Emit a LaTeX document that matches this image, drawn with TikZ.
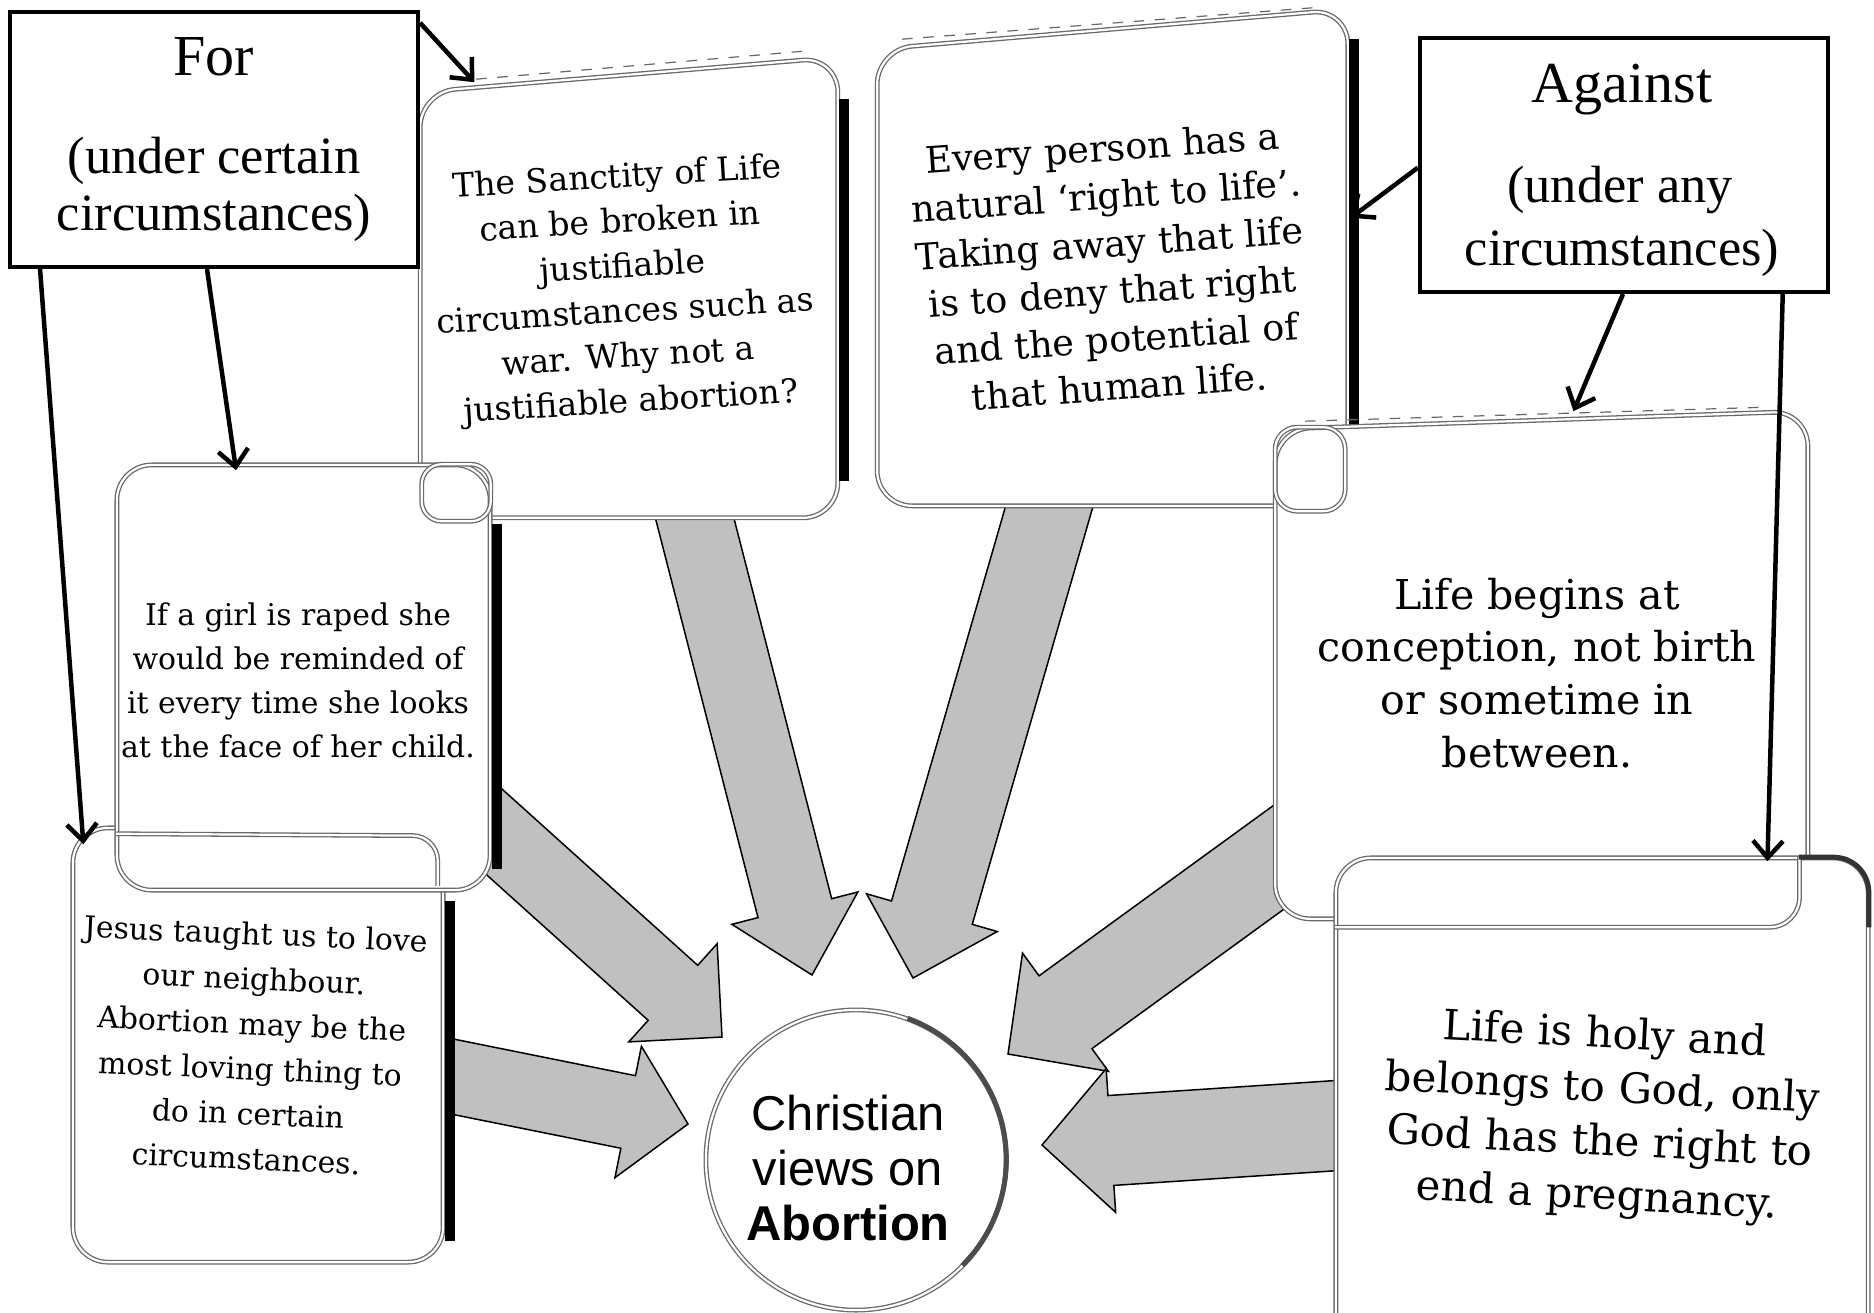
\documentclass[tikz,border=0pt]{standalone}
\usepackage{fontspec}
\setmainfont{Liberation Serif}
\newfontfamily\cardfont{DejaVu Serif}
\newfontfamily\circfont{Liberation Sans}
\usetikzlibrary{calc,arrows.meta}
\definecolor{fatgray}{RGB}{192,192,192}
\definecolor{edgegray}{RGB}{105,105,105}
\newcommand\fatarr[6]{%
  \coordinate (#1h) at ($(#3)!#6!(#2)$);
  \path[fatarrow] ($(#2)!#4!90:(#3)$) -- ($(#1h)!#4!90:(#3)$) -- ($(#1h)!#5!90:(#3)$) -- (#3)
     -- ($(#1h)!#5!-90:(#3)$) -- ($(#1h)!#4!-90:(#3)$) -- ($(#2)!#4!-90:(#3)$) -- cycle;
}
\begin{document}
\begin{tikzpicture}[x=0.01cm, y=-0.01cm,
  box/.style={draw=black, line width=0.04cm, fill=white, inner sep=0, rectangle},
  hdr/.style={anchor=base, inner sep=0, font=\fontsize{16.5}{18}\selectfont},
  sub/.style={anchor=base, inner sep=0, font=\fontsize{14.9}{17}\selectfont},
  thinarr/.style={line width=0.045cm, -{Straight Barb[length=0.17cm, width=0.3cm]}},
  cardshape/.style={fill=white, draw=edgegray, line width=0.013cm, double=white, double distance=0.022cm, rounded corners=0.35cm},
  cardnode/.style={cardshape, rectangle, inner sep=0},
  anchorbox/.style={rectangle, inner sep=0, draw=none},
  strip/.style={line width=0.1cm, black},
  curl/.style={draw=edgegray, line width=0.013cm, double=white, double distance=0.022cm},
  dashtop/.style={draw=black!60, line width=0.012cm, dashed},
  cardtxt/.style={align=center, inner sep=0},
  fatarrow/.style={fill=fatgray, draw=black, line width=0.015cm, line join=miter}
]
\useasboundingbox (0,0) rectangle (1874,1312);
\clip (0,0) rectangle (1874,1312);
\fill[white] (0,0) rectangle (1874,1312);

% ---------- card anchor nodes ----------
\node[anchorbox, minimum width=4.16cm, minimum height=4.59cm] (cS) at (629,287.5) {};
\node[anchorbox, minimum width=4.69cm, minimum height=4.95cm] (cE) at (1112.5,257.5) {};
\node[anchorbox, minimum width=5.31cm, minimum height=5.06cm] (cL) at (1541.5,665) {};
\node[circle, minimum size=3.0cm, inner sep=0, draw=none] (C) at (856,1160) {};

% ---------- fat arrows (behind the cards) ----------
\coordinate (a1s) at (690,500);   \coordinate (a1t) at (812,975);
\coordinate (a2s) at (1054,490);  \coordinate (a2t) at (913,978);
\coordinate (a3s) at (440,783);   \coordinate (a3t) at (722,1037);
\coordinate (a4s) at (400,1066);  \coordinate (a4t) at (688,1124);
\coordinate (a5s) at (1330,820);  \coordinate (a5t) at (1008,1054);
\coordinate (a6s) at (1360,1124); \coordinate (a6t) at (1042,1145);
\fatarr{a1}{a1s}{a1t}{0.38cm}{0.65cm}{0.69cm}
\fatarr{a2}{a2s}{a2t}{0.42cm}{0.68cm}{0.68cm}
\fatarr{a3}{a3s}{a3t}{0.37cm}{0.66cm}{0.66cm}
\fatarr{a4}{a4s}{a4t}{0.37cm}{0.67cm}{0.61cm}
\fatarr{a5}{a5s}{a5t}{0.45cm}{0.73cm}{0.71cm}
\fatarr{a6}{a6s}{a6t}{0.45cm}{0.72cm}{0.69cm}

% ---------- cards ----------
% Jesus card
\node[cardnode, minimum width=3.70cm, minimum height=4.34cm] (cJ) at (258,1045) {};
\draw[strip] ($(cJ.north east)!0.17!(cJ.south east)+(0.06cm,0)$) -- ($(cJ.north east)!0.95!(cJ.south east)+(0.06cm,0)$);
% Sanctity card
\path[cardshape] (cS.south west) -- ($(cS.north west)+(0,-0.35cm)$) -- (cS.north east) -- (cS.south east) -- cycle;
\draw[dashtop] ($(cS.north west)+(0.56cm,-0.22cm)$) -- ($(cS.north east)+(-0.34cm,0.06cm)$);
\draw[strip] ($(cS.north east)!0.09!(cS.south east)+(0.06cm,0)$) -- ($(cS.north east)!0.92!(cS.south east)+(0.06cm,0)$);
% Rape card
\node[cardnode, minimum width=3.73cm, minimum height=4.25cm] (cR) at (303.5,677.5) {};
\draw[strip] ($(cR.north east)!0.14!(cR.south east)+(0.06cm,0)$) -- ($(cR.north east)!0.95!(cR.south east)+(0.06cm,0)$);
\draw[curl, rounded corners=0.2cm] ($(cR.north east)+(-0.69cm,0)$) rectangle ($(cR.north east)+(0,-0.57cm)$);
\draw[curl, rounded corners=0.25cm] ($(cR.south west)+(0,0.57cm)$) -- ($(cR.south east)+(-0.53cm,0.55cm)$) -- ($(cR.south east)+(-0.53cm,0.05cm)$);
% Every person card
\path[cardshape] (cE.south west) -- ($(cE.north west)+(0,-0.40cm)$) -- (cE.north east) -- (cE.south east) -- cycle;
\draw[dashtop] ($(cE.north west)+(0.25cm,-0.30cm)$) -- ($(cE.north east)+(-0.27cm,0.02cm)$);
\draw[strip] ($(cE.north east)!0.06!(cE.south east)+(0.06cm,0)$) -- ($(cE.north east)!0.9!(cE.south east)+(0.06cm,0)$);
% Life begins card
\path[cardshape] (cL.south west) -- ($(cL.north west)+(0,-0.18cm)$) -- (cL.north east) -- (cL.south east) -- cycle;
\draw[dashtop] ($(cL.north west)+(0.3cm,-0.1cm)$) -- ($(cL.north east)+(-0.4cm,0.04cm)$);
\draw[curl, rounded corners=0.22cm] ($(cL.north west)+(0,-0.16cm)$) rectangle ($(cL.north west)+(0.70cm,-1.0cm)$);
% Life is holy card
\node[cardnode, minimum width=5.32cm, minimum height=5.22cm] (cH) at (1602,1119) {};
\draw[curl, rounded corners=0.3cm] ($(cH.north west)+(0,-0.70cm)$) -- ($(cH.north west)+(4.64cm,-0.70cm)$) -- ($(cH.north west)+(4.64cm,0)$);
\draw[line width=0.05cm, black!80, rounded corners=0.35cm] ($(cH.north east)+(-0.7cm,0)$) -- (cH.north east) -- ($(cH.north east)+(0,-0.7cm)$);

% ---------- centre ----------
\path[cardshape] (C.center) circle[radius=1.5cm];
\draw[line width=0.05cm, black!70] (C.70) arc[start angle=70, end angle=-45, radius=1.5cm];

% ---------- texts ----------
\node[cardtxt, rotate=3.5, font=\cardfont\fontsize{9.4}{12.8}\selectfont] (tS) at (624,291)
  {The Sanctity of Life\\can be broken in\\justifiable\\circumstances such as\\war. Why not a\\justifiable abortion?};
\node[cardtxt, rotate=4, font=\cardfont\fontsize{10.4}{13.6}\selectfont] (tE) at (1111,267)
  {Every person has a\\natural ‘right to life’.\\Taking away that life\\is to deny that right\\and the potential of\\that human life.};
\node[cardtxt, font=\cardfont\fontsize{8.5}{12.5}\selectfont] (tR) at (298,680)
  {If a girl is raped she\\would be reminded of\\it every time she looks\\at the face of her child.};
\node[cardtxt, rotate=-2.5, font=\cardfont\fontsize{8.5}{12.8}\selectfont] (tJ) at (251,1046)
  {Jesus taught us to love\\our neighbour.\\Abortion may be the\\most loving thing to\\do in certain\\circumstances.};
\node[cardtxt, font=\cardfont\fontsize{11.7}{15}\selectfont] (tL) at (1537,673)
  {Life begins at\\conception, not birth\\or sometime in\\between.};
\node[cardtxt, rotate=-3, font=\cardfont\fontsize{11.9}{15.3}\selectfont] (tH) at (1601,1117)
  {Life is holy and\\belongs to God, only\\God has the right to\\end a pregnancy.};
\node[cardtxt, font=\circfont\fontsize{13.9}{15.6}\selectfont] (tC) at (848,1168)
  {Christian\\views on\\\textbf{Abortion}};

% ---------- For / Against boxes ----------
\node[box, minimum width=4.08cm, minimum height=2.55cm] (For) at (214,139.5) {};
\node[hdr] (tFor) at (214,75) {For};
\node[sub] (tFor1) at (214,173) {(under certain};
\node[sub] (tFor2) at (214,230) {circumstances)};
\node[box, minimum width=4.08cm, minimum height=2.54cm] (Against) at (1624,165) {};
\node[hdr] (tAg) at (1622,102) {Against};
\node[sub] (tAg1) at (1620,202) {(under any};
\node[sub] (tAg2) at (1622,265) {circumstances)};

% ---------- thin arrows ----------
\draw[thinarr] ($(For.north east)!0.05!(For.south east)$) -- ($(cS.north west)!0.13!(cS.north east)+(0,-0.25cm)$);
\draw[thinarr] ($(For.south west)!0.078!(For.south east)$) -- ($(cJ.north west)!0.03!(cJ.north east)+(0,-0.17cm)$);
\draw[thinarr] ($(For.south west)!0.483!(For.south east)$) -- ($(cR.north west)!0.32!(cR.north east)+(0,-0.06cm)$);
\draw[thinarr] ($(Against.north west)!0.51!(Against.south west)$) -- ($(cE.north east)!0.42!(cE.south east)+(0.03cm,0)$);
\draw[thinarr] ($(Against.south west)!0.4975!(Against.south east)$) -- ($(cL.north west)!0.56!(cL.north east)$);
\draw[thinarr] ($(Against.south west)!0.885!(Against.south east)$) -- ($(cH.north west)!0.81!(cH.north east)+(0,-0.04cm)$);
\end{tikzpicture}
\end{document}
